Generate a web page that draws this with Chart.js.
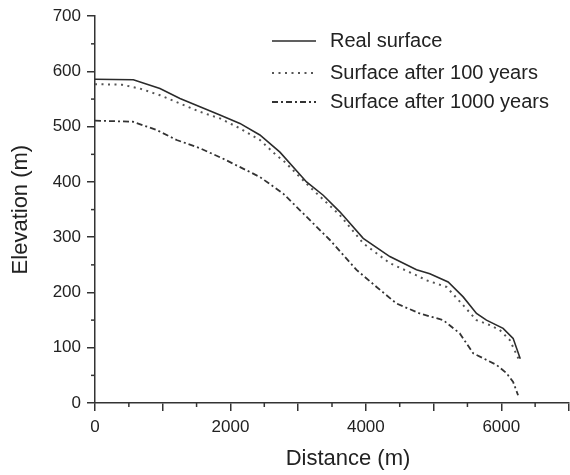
<!DOCTYPE html>
<html lang="en">
<head>
    <meta charset="UTF-8">
    <title>Elevation profile</title>
    <script src="https://cdn.jsdelivr.net/npm/chart.js"></script>
    <style>
        body { margin: 0; background: #fff; }
        #wrap { width: 570px; height: 475px; }
    </style>
</head>
<body>
    <div id="wrap">
        <canvas id="profile" width="570" height="475"></canvas>
    </div>

    <script>
        // Valores (distância em m, elevação em m)
        const distReal = [0, 566, 959, 1255, 1550, 1845, 2140, 2435, 2731, 3124, 3370, 3616, 3961, 4354, 4748, 4945, 5215, 5437, 5634, 5781, 6027, 6175, 6280];
        const elevReal = [586, 585, 569, 551, 536, 521, 506, 485, 454, 400, 376, 346, 298, 265, 241, 234, 219, 192, 162, 150, 135, 117, 80];

        const dist100 = [0, 400, 664, 959, 1255, 1550, 1845, 2140, 2435, 2681, 2779, 3173, 3616, 3961, 4354, 4748, 4896, 5191, 5437, 5634, 5830, 5978, 6125, 6263];
        const elev100 = [577, 576, 569, 557, 542, 527, 515, 497, 476, 448, 439, 391, 340, 289, 253, 231, 222, 210, 177, 150, 141, 132, 114, 78];

        const dist1000 = [0, 560, 910, 1206, 1550, 1894, 2239, 2435, 2779, 3075, 3469, 3862, 4158, 4453, 4797, 5142, 5387, 5585, 5929, 6077, 6175, 6248];
        const elev1000 = [511, 509, 494, 476, 461, 442, 421, 409, 379, 343, 295, 241, 210, 180, 162, 150, 126, 90, 69, 54, 38, 14];

        const seriesNames = ['Real surface', 'Surface after 100 years', 'Surface after 1000 years'];
        const xMinorTicks = [500, 1500, 2500, 3500, 4500, 5500, 6500];
        const yMinorTicks = [50, 150, 250, 350, 450, 550, 650];

        const fonte = 'Liberation Sans, Arial, sans-serif';

        function pontos(xs, ys) {
            return xs.map((x, i) => ({ x: x, y: ys[i] }));
        }

        // Ticks menores, título do eixo x e legenda
        const extras = {
            id: 'extras',
            afterDraw(chart) {
                const ctx = chart.ctx;
                const xs = chart.scales.x;
                const ys = chart.scales.y;
                const area = chart.chartArea;
                ctx.save();
                ctx.strokeStyle = '#333';
                ctx.lineWidth = 1.5;
                xMinorTicks.forEach(v => {
                    const px = xs.getPixelForValue(v);
                    ctx.beginPath();
                    ctx.moveTo(px, area.bottom);
                    ctx.lineTo(px, area.bottom + 4);
                    ctx.stroke();
                });
                yMinorTicks.forEach(v => {
                    const py = ys.getPixelForValue(v);
                    ctx.beginPath();
                    ctx.moveTo(area.left, py);
                    ctx.lineTo(area.left - 4, py);
                    ctx.stroke();
                });

                ctx.fillStyle = '#222';
                ctx.font = '22px ' + fonte;
                ctx.textAlign = 'center';
                ctx.textBaseline = 'middle';
                ctx.fillText('Distance (m)', 348, 459);

                // legenda
                const linhas = [41, 73, 102];
                ctx.textAlign = 'left';
                chart.data.datasets.forEach((ds, i) => {
                    const y = linhas[i];
                    ctx.beginPath();
                    ctx.strokeStyle = ds.borderColor;
                    ctx.lineWidth = ds.borderWidth;
                    ctx.setLineDash(ds.borderDash || []);
                    ctx.moveTo(272, y);
                    ctx.lineTo(316, y);
                    ctx.stroke();
                    ctx.setLineDash([]);
                    ctx.fillStyle = '#222';
                    ctx.font = '20px ' + fonte;
                    ctx.fillText(ds.label, 330, y);
                });
                ctx.restore();
            }
        };

        const ctx = document.getElementById('profile').getContext('2d');
        const chart = new Chart(ctx, {
            type: 'line',
            data: {
                datasets: [{
                    label: seriesNames[0],
                    data: pontos(distReal, elevReal),
                    borderColor: '#2b2b2b',
                    borderWidth: 1.6,
                    pointRadius: 0,
                    tension: 0
                }, {
                    label: seriesNames[1],
                    data: pontos(dist100, elev100),
                    borderColor: '#555',
                    borderWidth: 2,
                    borderDash: [2, 4.5],
                    pointRadius: 0,
                    tension: 0
                }, {
                    label: seriesNames[2],
                    data: pontos(dist1000, elev1000),
                    borderColor: '#333',
                    borderWidth: 1.8,
                    borderDash: [6, 3, 2, 3],
                    pointRadius: 0,
                    tension: 0
                }]
            },
            options: {
                responsive: false,
                animation: false,
                layout: { padding: { top: 16, right: 1, left: 0, bottom: 0 } },
                plugins: {
                    legend: { display: false },
                    tooltip: { enabled: false }
                },
                scales: {
                    x: {
                        type: 'linear',
                        min: 0,
                        max: 7000,
                        afterFit: s => { s.height = 72; s.paddingRight = 0; s.paddingLeft = 0; },
                        border: { display: true, color: '#333', width: 1.5 },
                        grid: { drawOnChartArea: false, tickLength: 8, color: '#333', lineWidth: 1.5 },
                        ticks: {
                            stepSize: 1000,
                            autoSkip: false,
                            maxRotation: 0,
                            padding: 6,
                            color: '#222',
                            font: { family: fonte, size: 17 },
                            callback: v => (v % 2000 === 0 && v < 7000) ? String(v) : ''
                        },
                        title: { display: false }
                    },
                    y: {
                        min: 0,
                        max: 700,
                        afterFit: s => { s.width = 95; },
                        border: { display: true, color: '#333', width: 1.5 },
                        grid: { drawOnChartArea: false, tickLength: 8, color: '#333', lineWidth: 1.5 },
                        ticks: {
                            stepSize: 100,
                            autoSkip: false,
                            padding: 6,
                            color: '#222',
                            font: { family: fonte, size: 17 }
                        },
                        title: {
                            display: true,
                            text: 'Elevation (m)',
                            color: '#222',
                            font: { family: fonte, size: 22 },
                            padding: { top: 8, bottom: 0 }
                        }
                    }
                }
            },
            plugins: [extras]
        });
    </script>
</body>
</html>
